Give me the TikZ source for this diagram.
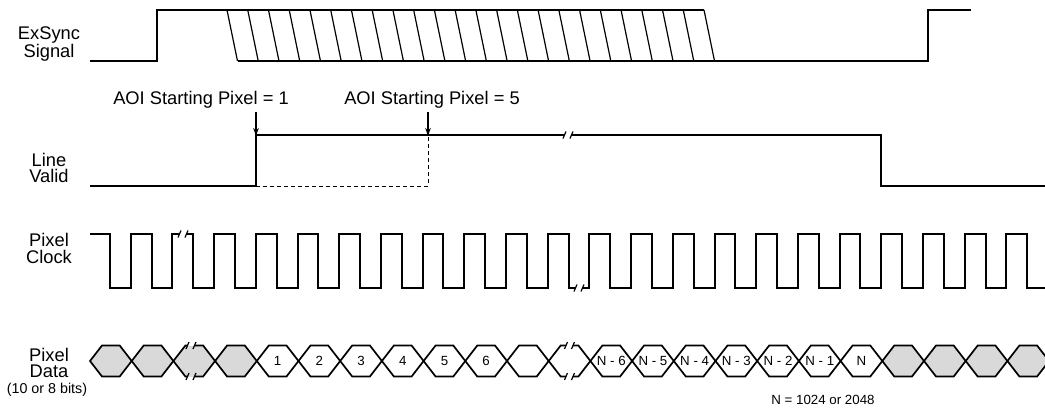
\documentclass[tikz,border=0pt]{standalone}
\usepackage{fontspec}
\setmainfont{Liberation Sans}
\usetikzlibrary{arrows.meta}
\definecolor{cellgray}{gray}{0.85}
% break mark "//" on a line on white ground
\newcommand{\brkmark}[2]{%
  \fill[white] (#1-3.5,#2-4) rectangle (#1+3.5,#2+4);
  \draw[brk] (#1-5,#2+3.5) -- (#1-2,#2-3.5) (#1+2,#2+3.5) -- (#1+5,#2-3.5);}
% break mark on the top and bottom edge of a data cell
\newcommand{\databrk}[2]{%
  \fill[white] (#1-3.5,339) rectangle (#1+3.5,345.5);
  \fill[#2] (#1-3.5,345.5) rectangle (#1+3.5,349);
  \fill[#2] (#1-3.5,373) rectangle (#1+3.5,376.5);
  \fill[white] (#1-3.5,376.5) rectangle (#1+3.5,383);
  \draw[brk] (#1-5,349) -- (#1-2,342) (#1+2,349) -- (#1+5,342);
  \draw[brk] (#1-5,380) -- (#1-2,373) (#1+2,380) -- (#1+5,373);}

\begin{document}
\begin{tikzpicture}[x=1pt, y=-1pt, >={Stealth[length=8pt,width=5.5pt]},
  sig/.style={line width=2pt},
  hatch/.style={line width=1.2pt},
  brk/.style={line width=1.2pt},
  cell/.style={line width=1.7pt, line join=miter},
  lbl/.style={font=\fontsize{18.3}{16.5}\selectfont, align=center},
  small/.style={font=\fontsize{13.3}{15}\selectfont}]
  \useasboundingbox (0,0) rectangle (1045,408);
  \clip (0,0) rectangle (1045,408);

  % signal names
  \node[lbl] (exsync) at (49,44) {ExSync\\Signal};
  \node[lbl] (lvalid) at (49,168) {Line\\Valid};
  \node[lbl] (pxclk) at (49,248.5) {Pixel\\Clock};
  \node[lbl] (pxdata) at (49,363) {Pixel\\Data};
  \node[font=\fontsize{14.3}{16}\selectfont] (bits) at (47,390) {(10 or 8 bits)};

  % ExSync
  \draw[sig] (90,61) -- (157,61) -- (157,10) -- (704,10);
  \draw[sig] (237.5,61) -- (928,61) -- (928,10) -- (971,10);
  \foreach \i in {0,...,23}
    \draw[hatch] ({227+20.74*\i},10) -- ({237.5+20.74*\i},61);

  % Line Valid
  \coordinate (lvrise) at (256,135);
  \coordinate (lvfive) at (428,135);
  \draw[line width=1pt, dash pattern=on 4pt off 3pt] (256,186) -- (428,186) -- (lvfive);
  \draw[sig] (90,186) -- (256,186) -- (lvrise) -- (881,135) -- (881,186) -- (1045,186);
  \brkmark{568}{135}
  \node[lbl] (aoione) at (201,100) {AOI Starting Pixel = 1};
  \node[lbl] (aoifive) at (432,100) {AOI Starting Pixel = 5};
  \draw[->, hatch] (lvrise |- aoione.south) -- ([yshift=-1pt]lvrise);
  \draw[->, hatch] (lvfive |- aoifive.south) -- ([yshift=-1pt]lvfive);

  % Pixel Clock
  \draw[sig] (90,234) \foreach \k in {0,...,21} {
      -- ({109.85+41.7*\k},234) -- ({109.85+41.7*\k},288)
      -- ({130.7+41.7*\k},288) -- ({130.7+41.7*\k},234) }
    -- (1027.25,234) -- (1027.25,288) -- (1045,288);
  \brkmark{183}{234}
  \brkmark{579}{288}

  % Pixel Data
  \foreach \k/\txt/\col in {0/{}/cellgray, 1/{}/cellgray, 2/{}/cellgray,
      3/{}/cellgray, 4/1/white, 5/2/white, 6/3/white, 7/4/white, 8/5/white,
      9/6/white, 10/{}/white, 11/{}/white, 12/N - 6/white, 13/N - 5/white,
      14/N - 4/white, 15/N - 3/white, 16/N - 2/white, 17/N - 1/white,
      18/N/white, 19/{}/cellgray, 20/{}/cellgray, 21/{}/cellgray, 22/{}/cellgray} {
    \filldraw[cell, fill=\col] ({90+41.7*\k},361) -- ++(12,-15.5)
      -- ({78+41.7*(\k+1)},345.5) -- ({90+41.7*(\k+1)},361)
      -- ({78+41.7*(\k+1)},376.5) -- ({102+41.7*\k},376.5) -- cycle;
    \node[small] (px\k) at ({110.85+41.7*\k},361) {\txt};
  }
  \databrk{191}{cellgray}
  \databrk{569.5}{white}
  \node[small] (nnote) at (823,400) {N = 1024 or 2048};
\end{tikzpicture}
\end{document}
